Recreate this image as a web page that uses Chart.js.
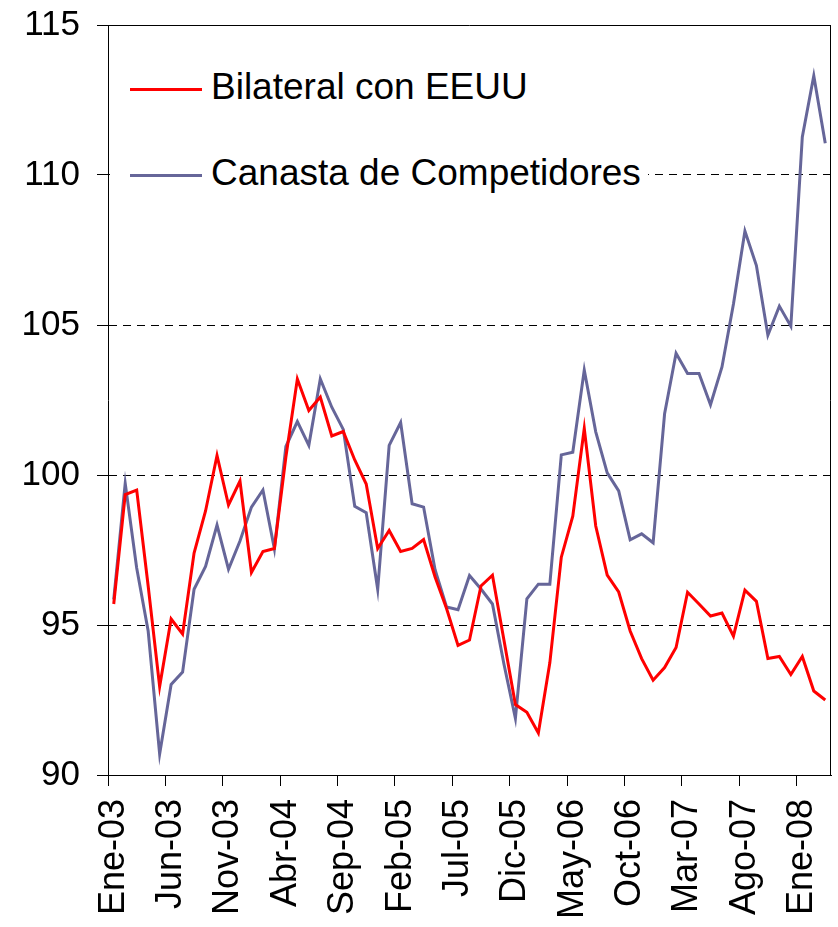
<!DOCTYPE html>
<html>
<head>
<meta charset="utf-8">
<script src="https://cdn.jsdelivr.net/npm/chart.js@4/dist/chart.umd.min.js"></script>
<style>
  html, body { margin: 0; padding: 0; background: #fff; }
  #wrap { position: relative; width: 838px; height: 927px; }
  #legend { position: absolute; left: 110px; top: 32px; width: 538px; height: 180px; background: #fff;
            font-family: "Liberation Sans", Arial, sans-serif; font-size: 37px; color: #000; }
  .row { position: absolute; left: 0; height: 36px; line-height: 36px; white-space: nowrap; }
  .sample { position: absolute; left: 20px; top: 19.5px; width: 72px; height: 2.5px; }
  .txt { position: absolute; left: 101px; top: 0; }
</style>
</head>
<body>
<div id="wrap">
  <canvas id="c" width="838" height="927"></canvas>
  <div id="legend"></div>
</div>
<script>
// Categories: monthly, Ene-03 .. Mar-08
const monthNames = ['Ene','Feb','Mar','Abr','May','Jun','Jul','Ago','Sep','Oct','Nov','Dic'];
const categories = [];
for (let y = 3; y <= 8; y++) {
  for (let m = 0; m < 12; m++) {
    if (y === 8 && m > 2) break;
    categories.push(monthNames[m] + '-0' + y);
  }
}

const bilateralEEUU = [
  95.7, 99.35, 99.5, 96.3, 92.95, 95.2, 94.7, 97.4, 98.8, 100.65,
  99.0, 99.8, 96.75, 97.45, 97.55, 100.6, 103.2, 102.15, 102.6, 101.3,
  101.45, 100.5, 99.7, 97.55, 98.15, 97.45, 97.55, 97.85, 96.6, 95.55,
  94.32, 94.5, 96.3, 96.66, 94.5, 92.35, 92.09, 91.4, 93.74, 97.26,
  98.63, 101.55, 98.3, 96.66, 96.1, 94.8, 93.88, 93.16, 93.58, 94.25,
  96.09, 95.7, 95.3, 95.4, 94.63, 96.16, 95.79, 93.88, 93.95, 93.35,
  93.95, 92.8, 92.5
];

const canastaCompetidores = [
  95.85, 99.72, 96.9, 94.8, 90.7, 93.02, 93.43, 96.19, 96.95, 98.33,
  96.86, 97.8, 98.93, 99.5, 97.54, 100.95, 101.78, 100.99, 103.2, 102.26,
  101.52, 98.96, 98.74, 96.19, 100.99, 101.75, 99.04, 98.93, 96.84, 95.6,
  95.51, 96.65, 96.2, 95.7, 93.7, 91.89, 95.87, 96.36, 96.36, 100.67,
  100.76, 103.5, 101.44, 100.07, 99.47, 97.84, 98.04, 97.74, 102.04, 104.06,
  103.38, 103.38, 102.34, 103.6, 105.7, 108.13, 106.98, 104.66, 105.63, 104.96,
  111.27, 113.31, 111.06
];

const seriesNames = ['Bilateral con EEUU', 'Canasta de Competidores'];
const seriesColors = ['#FF0000', '#666699'];
const yTicks = [90, 95, 100, 105, 110, 115];
const labelEvery = 5;

const FONT = '"Liberation Sans", Arial, sans-serif';

// legend (HTML overlay)
const legend = document.getElementById('legend');
[ {top: 36.5}, {top: 122.5} ].forEach((pos, i) => {
  const row = document.createElement('div');
  row.className = 'row';
  row.style.top = pos.top + 'px';
  const s = document.createElement('span');
  s.className = 'sample';
  s.style.background = seriesColors[i];
  const t = document.createElement('span');
  t.className = 'txt';
  t.textContent = seriesNames[i];
  row.appendChild(s); row.appendChild(t);
  legend.appendChild(row);
});

const frame = {
  id: 'frame',
  afterDraw(chart) {
    const {ctx, chartArea: a} = chart;
    ctx.save();
    ctx.strokeStyle = '#000';
    ctx.lineWidth = 1;
    ctx.beginPath();
    ctx.moveTo(a.left, a.top + 0.5);
    ctx.lineTo(a.right - 0.5, a.top + 0.5);
    ctx.lineTo(a.right - 0.5, a.bottom);
    ctx.stroke();
    ctx.restore();
  }
};

const noPad = (s) => { s.paddingLeft = 0; s.paddingRight = 0; s.paddingTop = 0; s.paddingBottom = 0; };

new Chart(document.getElementById('c'), {
  type: 'line',
  data: {
    labels: categories,
    datasets: [
      { label: seriesNames[0], data: bilateralEEUU, borderColor: seriesColors[0], backgroundColor: seriesColors[0],
        borderWidth: 3, pointRadius: 0, tension: 0, fill: false },
      { label: seriesNames[1], data: canastaCompetidores, borderColor: seriesColors[1], backgroundColor: seriesColors[1],
        borderWidth: 3, pointRadius: 0, tension: 0, fill: false }
    ]
  },
  options: {
    responsive: false,
    animation: false,
    layout: { padding: { top: 25, right: 7, left: 0, bottom: 0 } },
    plugins: { legend: { display: false }, tooltip: { enabled: false } },
    scales: {
      x: {
        type: 'category',
        offset: true,
        grid: {
          offset: true,
          drawOnChartArea: false,
          drawTicks: true,
          tickLength: 11,
          tickWidth: 1,
          tickColor: (c) => (c.index % labelEvery === 0 && c.index < categories.length) ? '#000' : 'rgba(0,0,0,0)'
        },
        border: { display: true, color: '#000', width: 1 },
        ticks: {
          autoSkip: false,
          minRotation: 90,
          maxRotation: 90,
          padding: 13,
          color: '#000',
          font: { family: FONT, size: 36 },
          callback: function(v, i) { return i % labelEvery === 0 ? categories[i] : ''; }
        },
        afterFit: (s) => { s.height = 152; noPad(s); }
      },
      y: {
        min: yTicks[0],
        max: yTicks[yTicks.length - 1],
        afterBuildTicks: (s) => { s.ticks = yTicks.map(v => ({ value: v })); },
        grid: {
          color: '#000',
          lineWidth: 1,
          drawTicks: true,
          tickLength: 11,
          tickColor: '#000',
          tickBorderDash: []
        },
        border: { display: true, color: '#000', width: 1, dash: [8, 6] },
        ticks: {
          padding: 17,
          color: '#000',
          font: { family: FONT, size: 35 }
        },
        afterFit: (s) => { s.width = 108; noPad(s); }
      }
    }
  },
  plugins: [frame]
});
</script>
</body>
</html>
